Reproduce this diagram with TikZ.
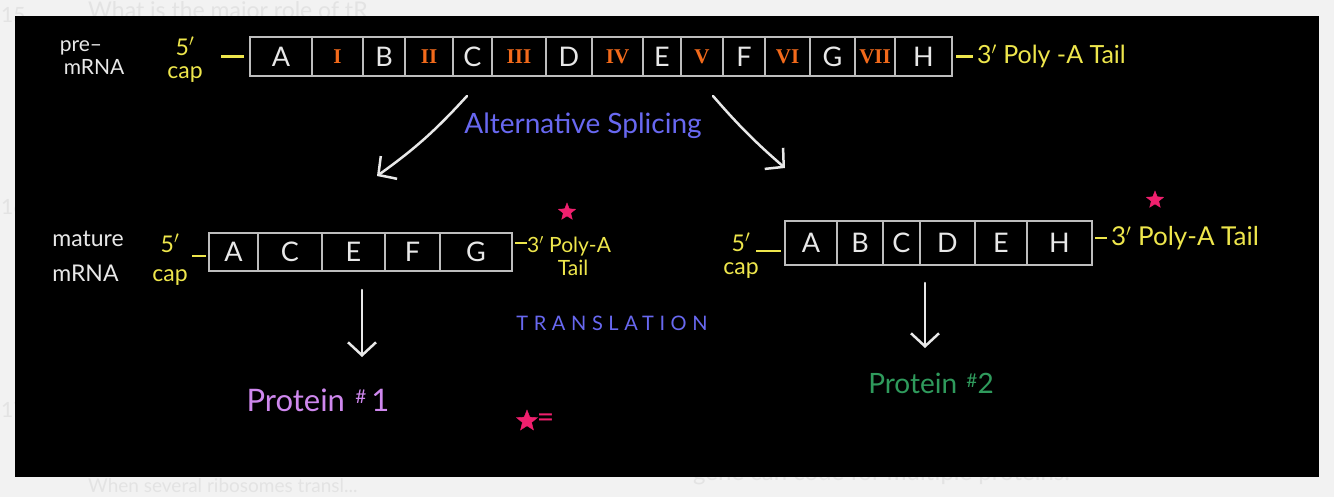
\documentclass[tikz,border=0pt]{standalone}
\usepackage{fontspec}
\setmainfont{Lato}
\newfontfamily\romfont{Liberation Serif}
\usetikzlibrary{arrows.meta,positioning,shapes.geometric}
\definecolor{pagebg}{HTML}{F2F2F2}
\definecolor{ghostc}{HTML}{E3E3E3}
\definecolor{chalk}{HTML}{E8E8E8}
\definecolor{boxline}{HTML}{BDBDBD}
\definecolor{capyel}{HTML}{EEE64C}
\definecolor{intron}{HTML}{F26A1B}
\definecolor{splblue}{HTML}{6868F0}
\definecolor{starpink}{HTML}{F0206E}
\definecolor{protA}{HTML}{CF88EE}
\definecolor{protB}{HTML}{2F9A5C}
\newcommand{\fs}[1]{\fontsize{#1}{#1}\selectfont}
\tikzset{
  ghost/.style={text=ghostc, font=\fs{21}, inner sep=0pt},
  cell/.style={draw=boxline, line width=2pt, minimum width=#1, inner sep=0pt, text=chalk, font=\fs{27}},
  intr/.style={text=intron, font=\romfont\bfseries\fs{21}},
  side/.style={text=chalk, font=\fs{21}, align=left, inner sep=0pt},
  capl/.style={text=capyel, font=\fs{23}, align=center, inner sep=0pt},
  capline/.style={draw=capyel, line width=2.2pt},
  arr/.style={draw=chalk, line width=2.5pt, line cap=round, -{Straight Barb[length=13pt,width=28pt,line width=2.5pt]}},
  pinkstar/.style={star, star points=5, star point ratio=2.3, fill=starpink, draw=starpink, minimum size=18pt, inner sep=0pt},
  blue/.style={text=splblue, inner sep=0pt},
}
\begin{document}
\begin{tikzpicture}[x=1pt,y=-1pt]
  \useasboundingbox (0,0) rectangle (1334,497);
  % page seen round the video frame
  \fill[pagebg] (0,0) rectangle (1334,497);
  \node[ghost, anchor=west] (n15) at (1,15) {15};
  \node[ghost, anchor=west] (n16) at (1,207) {16};
  \node[ghost, anchor=west] (n17) at (1,410) {17};
  \node[ghost, anchor=west, font=\fs{23}] (q1) at (88,12) {What is the major role of tR};
  \node[ghost, anchor=west, font=\fs{19}] (q2) at (88,486) {When several ribosomes transl...};
  \node[ghost, anchor=west, font=\fs{24}] (q3) at (693,474) {gene can code for multiple proteins.};
  \fill[black] (15,16) rectangle (1319,477);

  % pre-mRNA
  \node[side] (prelbl) at (92,58) {pre--\\[2pt]\hspace*{4pt}mRNA};
  \node[capl] (cap0) at (185,60) {5$'$\\[0pt]cap};
  \foreach \nm/\lbl/\xa/\xb in {A/A/250/312, B/B/363/405, C/C/453/492, D/D/546/592,
      E/E/643/681, F/F/723/765, G/G/810/855, H/H/895/952}
    \node[cell={(\xb-\xa)*1pt}, minimum height=39pt] (p\nm) at ({(\xa+\xb)/2},56.5) {\lbl};
  \foreach \lbl/\xa/\xb [count=\k] in {I/312/363, II/405/453, III/492/546, IV/592/643,
      V/681/723, VI/765/810, VII/855/895}
    \node[cell={(\xb-\xa)*1pt}, minimum height=39pt, intr] (p\k) at ({(\xa+\xb)/2},56.5) {\lbl};
  \draw[capline, shorten <=5pt] (pA.west) -- ++(-28,0);
  \draw[capline, shorten <=3pt] (pH.east) -- ++(20,0)
    node[right=3pt, text=capyel, font=\fs{25}, inner sep=0pt] (tail0) {3$'$ Poly -A Tail};

  % splicing
  \node[blue, font=\fs{28}] (splice) at (583,126) {Alternative Splicing};
  \coordinate (sL) at (467,96);
  \coordinate (eL) at (377,176);
  \coordinate (sR) at (713,96);
  \coordinate (eR) at (785,168);
  \draw[arr] (sL) to[bend left=6] (eL);
  \draw[arr] (sR) to[bend right=4] (eR);

  % mature mRNA, left
  \node[side, font=\fs{23}] (matlbl) at (88,256) {mature\\[12pt]mRNA};
  \node[capl] (cap1) at (170,260) {5$'$\\[6pt]cap};
  \foreach \nm/\xa/\xb in {A/209/258, C/258/322, E/322/385, F/385/440, G/440/512}
    \node[cell={(\xb-\xa)*1pt}, minimum height=38pt] (m\nm) at ({(\xa+\xb)/2},252) {\nm};
  \draw[capline, shorten <=2pt] ([yshift=-4pt]mA.west) -- ++(-16,0);
  \draw[capline, shorten <=2pt] ([yshift=9pt]mG.east) -- ++(14,0);
  \node[capl, font=\fs{21}, anchor=west] (tail1) at (527,256) {3$'$ Poly-A\\[2pt]\hspace*{8pt}Tail};
  \node[pinkstar] (st1) at (567,212) {};

  % mature mRNA, right
  \node[capl] (cap2) at (741,256) {5$'$\\[0pt]cap};
  \foreach \nm/\xa/\xb in {A/785/837, B/837/883, C/883/920, D/920/975, E/975/1027, H/1027/1092}
    \node[cell={(\xb-\xa)*1pt}, minimum height=44pt] (r\nm) at ({(\xa+\xb)/2},243) {\nm};
  \draw[capline, shorten <=3pt] ([yshift=-8pt]rA.west) -- ++(-28,0);
  \draw[capline, shorten <=2pt] ([yshift=5pt]rH.east) -- ++(14,0)
    node[right=3pt, text=capyel, font=\fs{26}, inner sep=0pt] (tail2) {3$'$ Poly-A Tail};
  \node[pinkstar] (st2) at (1155,200) {};

  % translation
  \node[blue, font=\fs{20}\addfontfeatures{LetterSpace=28}] (transl) at (612,323) {TRANSLATION};
  \coordinate (d1) at (362,357);
  \coordinate (d2) at (925,348);
  \draw[arr] ([xshift=8.5pt,yshift=-18pt]mE.south) -- (d1);
  \draw[arr] ([xshift=-22.5pt,yshift=-17pt]rD.south) -- (d2);
  \node[text=protA, font=\fs{31}, inner sep=0pt] (prot1) at (318,400)
    {Protein\,\,\raisebox{8pt}{\fs{19}\#}\,1};
  \node[text=protB, font=\fs{28}, inner sep=0pt] (prot2) at (931,383)
    {Protein\,\,\raisebox{6pt}{\fs{19}\#}2};
  \node[pinkstar, minimum size=22pt] (st3) at (527,421) {};
  \node[text=starpink, font=\fs{30}, right=3pt of st3, inner sep=0pt] (eq) {=};
\end{tikzpicture}
\end{document}
